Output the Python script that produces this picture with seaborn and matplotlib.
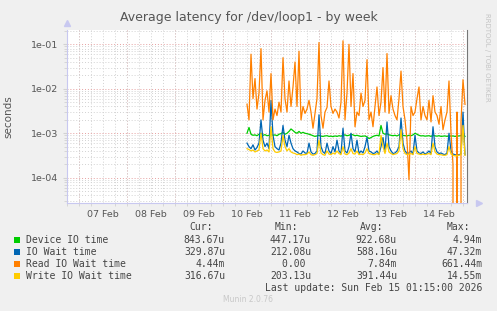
import numpy as np
import pandas as pd
import matplotlib
matplotlib.use("Agg")
import matplotlib.pyplot as plt
import matplotlib.dates as mdates
from matplotlib.ticker import LogLocator, FuncFormatter, NullFormatter
from matplotlib.patches import Rectangle
import seaborn as sns

# hourly samples starting 2026-02-10 12:00
start = "2026-02-10 12:00"
device_us = [1000, 1350, 950, 900, 920, 880, 950, 1000, 900, 930, 880, 900, 950, 900, 920, 880,
             950, 980, 1050, 950, 1000, 1100, 1250, 1150, 1050, 1000, 1100, 1000, 1050, 1000, 980, 950,
             920, 880, 850, 870, 900, 860, 850, 870, 880, 850, 860, 840, 870, 850, 880, 860,
             900, 920, 880, 900, 950, 920, 880, 900, 870, 850, 860, 870, 830, 760, 800, 850,
             880, 900, 870, 1500, 1000, 950, 980, 920, 900, 880, 900, 870, 920, 950, 900, 880,
             870, 900, 880, 920, 1000, 950, 900, 870, 880, 860, 870, 880, 850, 900, 870, 860,
             880, 850, 860, 870, 850, 880, 860, 870, 850, 860, 870, 880, 1000, 844]
iowait_us = [600, 500, 450, 550, 420, 480, 600, 2000, 700, 500, 600, 450, 5500, 900, 500, 450,
             420, 600, 1500, 700, 500, 900, 600, 450, 400, 380, 350, 340, 400, 360, 350, 600,
             380, 340, 350, 400, 2600, 500, 380, 350, 600, 400, 350, 500, 380, 700, 400, 350,
             1300, 400, 360, 500, 1000, 450, 380, 700, 350, 400, 360, 500, 800, 400, 380, 350,
             360, 400, 340, 500, 800, 400, 1800, 500, 400, 350, 360, 400, 500, 2200, 600, 400,
             350, 360, 400, 340, 900, 400, 360, 350, 380, 340, 360, 400, 350, 1400, 500, 380,
             350, 360, 340, 330, 360, 1000, 400, 340, 330, 320, 330, 340, 3000, 330]
read_ms = [4.5, 2.0, 60, 6, 17, 3.5, 8, 80, 2.0, 5.5, 9, 3, 22, 2, 3.5, 2.5,
           5, 3, 50, 6, 3, 15, 4, 11, 40, 4, 70, 2, 4, 2.8, 3.5, 5.5,
           3, 1.3, 2.8, 6, 110, 2.5, 1.3, 3, 3.8, 15, 4, 2.8, 3.5, 3, 2.2, 5,
           120, 2, 8, 100, 4, 22, 1.4, 3, 2.5, 8, 4, 5.5, 45, 2, 3, 1.4,
           4, 11, 2.5, 5, 30, 3, 62, 2.8, 7, 3.5, 2.5, 2, 6, 25, 4, 2,
           0.7, 0.09, 4, 2.5, 3, 6, 11, 2, 4, 2.5, 2, 5.5, 1.8, 7, 3, 2.5,
           1.6, 4, 1.2, 2, 3, 15, 1, 0.2, 0, 3, 0, 1.8, 16, 4.44]
write_us = [450, 430, 400, 420, 380, 400, 420, 1000, 450, 400, 420, 380, 1400, 450, 380, 370,
            380, 400, 900, 500, 400, 450, 380, 360, 350, 330, 340, 320, 330, 330, 340, 380,
            330, 320, 330, 350, 700, 360, 330, 320, 400, 340, 330, 360, 340, 400, 350, 330,
            500, 340, 330, 360, 450, 350, 340, 400, 330, 340, 330, 360, 450, 350, 340, 330,
            330, 350, 330, 900, 500, 350, 600, 380, 350, 330, 340, 350, 400, 1200, 450, 350,
            330, 340, 350, 330, 500, 350, 340, 330, 340, 330, 340, 350, 330, 600, 380, 340,
            330, 330, 320, 320, 330, 500, 340, 320, 310, 310, 320, 330, 1500, 317]

names = ["Device IO time", "IO Wait time", "Read IO Wait time", "Write IO Wait time"]
colors = ["#00CC00", "#0066B3", "#FF8000", "#FFCC00"]
cur = ["843.67u", "329.87u", "4.44m", "316.67u"]
mins = ["447.17u", "212.08u", "0.00 ", "203.13u"]
avgs = ["922.68u", "588.16u", "7.84m", "391.44u"]
maxs = ["4.94m", "47.32m", "661.44m", "14.55m"]

times = pd.date_range(start, periods=len(read_ms), freq="h")
df = pd.DataFrame({
    "time": times,
    names[0]: np.array(device_us) * 1e-6,
    names[1]: np.array(iowait_us) * 1e-6,
    names[2]: np.array(read_ms) * 1e-3,
    names[3]: np.array(write_us) * 1e-6,
})
long = df.melt(id_vars="time", var_name="series", value_name="seconds")

W, H = 497, 311
fig = plt.figure(figsize=(W / 100, H / 100), dpi=100, facecolor="#F0F0F0")
ax = fig.add_axes([67 / W, 1 - 203 / H, 400 / W, 173 / H])
ax.set_facecolor("white")

sns.lineplot(data=long, x="time", y="seconds", hue="series", hue_order=names,
             palette=colors, linewidth=0.9, legend=False, ax=ax)

ax.set_yscale("log")
ax.set_ylim(2.7e-5, 0.21)
ax.set_xlim(pd.Timestamp("2026-02-06 18:00"), pd.Timestamp("2026-02-15 02:00"))

grey = "#D2D2D2"
red = "#E6A0A0"
dot = (0, (1, 2))
ax.yaxis.set_major_locator(LogLocator(base=10))
ax.yaxis.set_minor_locator(LogLocator(base=10, subs=np.arange(2, 10)))
ax.yaxis.set_major_formatter(FuncFormatter(lambda v, p: f"{v:.0e}"))
ax.yaxis.set_minor_formatter(NullFormatter())
ax.grid(which="minor", axis="y", color=grey, ls=dot, lw=0.7)
ax.grid(which="major", axis="y", color=red, ls=dot, lw=0.7)

ax.xaxis.set_major_locator(mdates.HourLocator(byhour=[12]))
ax.xaxis.set_major_formatter(mdates.DateFormatter("%d %b"))
ax.xaxis.set_minor_locator(mdates.HourLocator(byhour=[0, 6, 18]))
ax.grid(which="both", axis="x", color=grey, ls=dot, lw=0.7)
midnights = pd.date_range("2026-02-07", "2026-02-15", freq="D")
ax.vlines(midnights, 0, 1, transform=ax.get_xaxis_transform(), colors=red,
          linestyles=dot, lw=0.7, zorder=0.5)
ax.set_axisbelow(True)

txt = "#555555"
ax.tick_params(axis="x", which="major", length=0, labelsize=6.8, colors=txt, pad=5)
ax.tick_params(axis="x", which="minor", length=2, color=grey)
ax.tick_params(axis="y", which="major", length=3, labelsize=6.8, colors=txt, color=grey, pad=3)
ax.tick_params(axis="y", which="minor", length=2, color=grey)
ax.set_xlabel("")
ax.set_ylabel("seconds", fontsize=7.5, color=txt, labelpad=13)

ax.spines["top"].set_visible(False)
ax.spines["left"].set_color("#C8C8F0")
ax.spines["bottom"].set_color("#C8C8F0")
ax.spines["right"].set_color("#777777")
for sp in ax.spines.values():
    sp.set_linewidth(0.8)
ax.plot([0], [1.04], marker="^", ms=4, color="#C8C8F0", transform=ax.transAxes, clip_on=False)
ax.plot([1.03], [0], marker=">", ms=4, color="#C8C8F0", transform=ax.transAxes, clip_on=False)

fig.text(0.5, 1 - 18 / H, "Average latency for /dev/loop1 - by week", ha="center", va="center",
         fontsize=9, color="#555555")
fig.text(487 / W, 1 - 57 / H, "RRDTOOL / TOBI OETIKER", rotation=270, ha="center", va="center",
         fontsize=5, color="#C4C4C4")

mono = dict(family="DejaVu Sans Mono", fontsize=7, color="#444444", va="center")
ry = [239.7, 251.7, 263.7, 275.7]
cols = [225, 311, 397, 482]
for x, h in zip([213, 298, 383, 470], ["Cur:", "Min:", "Avg:", "Max:"]):
    fig.text(x / W, 1 - 227 / H, h, ha="right", **mono)
for i, n in enumerate(names):
    y = 1 - ry[i] / H
    fig.patches.append(Rectangle((14 / W, y - 3 / H), 6 / W, 6 / H, transform=fig.transFigure,
                                 facecolor=colors[i], edgecolor="none"))
    fig.text(26 / W, y, n, ha="left", **mono)
    for x, v in zip(cols, [cur[i], mins[i], avgs[i], maxs[i]]):
        fig.text(x / W, y, v, ha="right", **mono)
fig.text(482 / W, 1 - 287.7 / H, "Last update: Sun Feb 15 01:15:00 2026", ha="right", **mono)
fig.text(248 / W, 1 - 300 / H, "Munin 2.0.76", ha="center", va="center", fontsize=5.5, color="#C8C8C8")

fig.savefig("out.png", dpi=100, facecolor=fig.get_facecolor())
